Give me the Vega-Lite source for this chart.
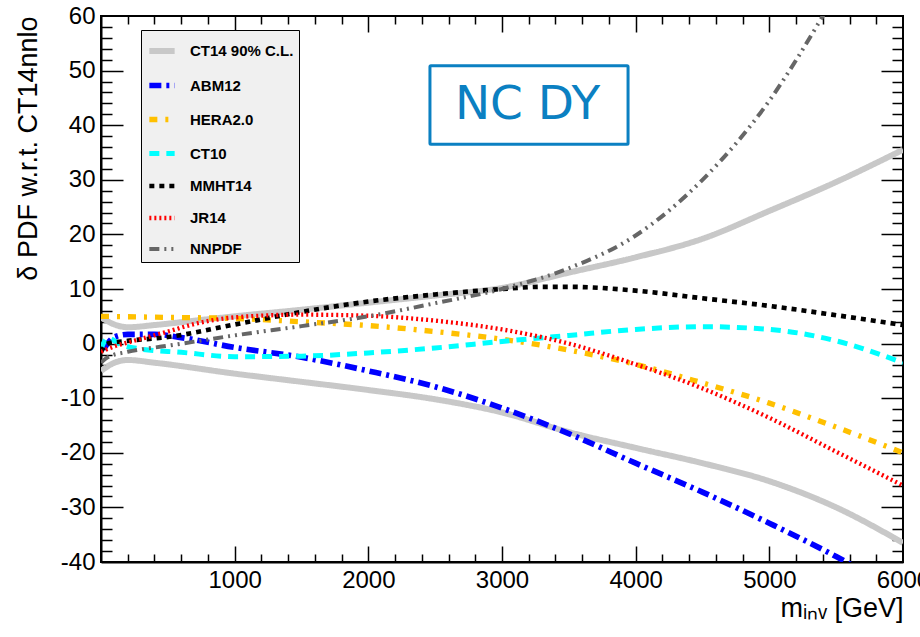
{
  "$schema": "https://vega.github.io/schema/vega-lite/v6.json",
  "width": 802,
  "height": 546,
  "autosize": "none",
  "padding": {"left": 101, "top": 16, "right": 17, "bottom": 75},
  "background": "white",
  "config": {
    "view": {"stroke": "black", "strokeWidth": 2},
    "axis": {
      "labelFont": "Liberation Sans", "titleFont": "Liberation Sans",
      "labelFontSize": 24, "titleFontSize": 27, "titleFontWeight": "normal",
      "labelColor": "black", "titleColor": "black", "domainColor": "black",
      "tickColor": "black", "grid": false, "domainWidth": 2, "tickWidth": 1.5
    },
    "legend": {
      "fillColor": "#f0f0f0", "strokeColor": "black", "padding": 5,
      "labelFont": "Liberation Sans", "labelFontSize": 15, "labelFontWeight": "bold", "labelColor": "black",
      "symbolSize": 640, "rowPadding": 7, "labelOffset": 12
    }
  },
  "layer": [
    {
      "layer": [
        {
          "data": {"values": [
            {"s":"CT14 90% C.L.","p":"u","m":0,"v":4.8},{"s":"CT14 90% C.L.","p":"u","m":100,"v":3.5},{"s":"CT14 90% C.L.","p":"u","m":200,"v":3.0},{"s":"CT14 90% C.L.","p":"u","m":400,"v":3.4},{"s":"CT14 90% C.L.","p":"u","m":700,"v":4.2},{"s":"CT14 90% C.L.","p":"u","m":1000,"v":5.0},{"s":"CT14 90% C.L.","p":"u","m":1500,"v":6.2},{"s":"CT14 90% C.L.","p":"u","m":2000,"v":7.5},{"s":"CT14 90% C.L.","p":"u","m":2500,"v":8.8},{"s":"CT14 90% C.L.","p":"u","m":3000,"v":10.2},{"s":"CT14 90% C.L.","p":"u","m":3500,"v":13.0},{"s":"CT14 90% C.L.","p":"u","m":4000,"v":15.8},{"s":"CT14 90% C.L.","p":"u","m":4500,"v":19.2},{"s":"CT14 90% C.L.","p":"u","m":5000,"v":24.3},{"s":"CT14 90% C.L.","p":"u","m":5500,"v":29.6},{"s":"CT14 90% C.L.","p":"u","m":6000,"v":35.5},
            {"s":"CT14 90% C.L.","p":"l","m":0,"v":-5.0},{"s":"CT14 90% C.L.","p":"l","m":100,"v":-3.5},{"s":"CT14 90% C.L.","p":"l","m":200,"v":-3.0},{"s":"CT14 90% C.L.","p":"l","m":400,"v":-3.5},{"s":"CT14 90% C.L.","p":"l","m":1000,"v":-5.5},{"s":"CT14 90% C.L.","p":"l","m":1500,"v":-7.0},{"s":"CT14 90% C.L.","p":"l","m":2000,"v":-8.5},{"s":"CT14 90% C.L.","p":"l","m":2500,"v":-10.2},{"s":"CT14 90% C.L.","p":"l","m":3000,"v":-12.6},{"s":"CT14 90% C.L.","p":"l","m":3500,"v":-16.2},{"s":"CT14 90% C.L.","p":"l","m":4000,"v":-19.1},{"s":"CT14 90% C.L.","p":"l","m":4500,"v":-21.9},{"s":"CT14 90% C.L.","p":"l","m":5000,"v":-25.2},{"s":"CT14 90% C.L.","p":"l","m":5500,"v":-30.0},{"s":"CT14 90% C.L.","p":"l","m":6000,"v":-36.5},
            {"s":"ABM12","p":"a","m":20,"v":-1.0},{"s":"ABM12","p":"a","m":100,"v":1.2},{"s":"ABM12","p":"a","m":200,"v":1.7},{"s":"ABM12","p":"a","m":400,"v":1.7},{"s":"ABM12","p":"a","m":600,"v":1.1},{"s":"ABM12","p":"a","m":1000,"v":-0.7},{"s":"ABM12","p":"a","m":1500,"v":-2.5},{"s":"ABM12","p":"a","m":2000,"v":-5.0},{"s":"ABM12","p":"a","m":2500,"v":-7.9},{"s":"ABM12","p":"a","m":3000,"v":-11.8},{"s":"ABM12","p":"a","m":3500,"v":-16.5},{"s":"ABM12","p":"a","m":4000,"v":-21.9},{"s":"ABM12","p":"a","m":4500,"v":-27.2},{"s":"ABM12","p":"a","m":5000,"v":-32.9},{"s":"ABM12","p":"a","m":5500,"v":-39.0},{"s":"ABM12","p":"a","m":6000,"v":-46.0},
            {"s":"HERA2.0","p":"a","m":0,"v":5.0},{"s":"HERA2.0","p":"a","m":500,"v":4.8},{"s":"HERA2.0","p":"a","m":1000,"v":4.6},{"s":"HERA2.0","p":"a","m":1500,"v":4.0},{"s":"HERA2.0","p":"a","m":2000,"v":3.3},{"s":"HERA2.0","p":"a","m":2500,"v":2.2},{"s":"HERA2.0","p":"a","m":3000,"v":0.8},{"s":"HERA2.0","p":"a","m":3500,"v":-1.2},{"s":"HERA2.0","p":"a","m":4000,"v":-3.8},{"s":"HERA2.0","p":"a","m":4500,"v":-7.2},{"s":"HERA2.0","p":"a","m":5000,"v":-10.9},{"s":"HERA2.0","p":"a","m":5500,"v":-15.3},{"s":"HERA2.0","p":"a","m":6000,"v":-20.0},
            {"s":"CT10","p":"a","m":0,"v":-1.0},{"s":"CT10","p":"a","m":50,"v":1.0},{"s":"CT10","p":"a","m":150,"v":-0.2},{"s":"CT10","p":"a","m":300,"v":-1.0},{"s":"CT10","p":"a","m":600,"v":-1.6},{"s":"CT10","p":"a","m":1000,"v":-2.4},{"s":"CT10","p":"a","m":1500,"v":-2.3},{"s":"CT10","p":"a","m":2000,"v":-1.7},{"s":"CT10","p":"a","m":2500,"v":-0.8},{"s":"CT10","p":"a","m":3000,"v":0.4},{"s":"CT10","p":"a","m":3500,"v":1.5},{"s":"CT10","p":"a","m":4000,"v":2.6},{"s":"CT10","p":"a","m":4500,"v":3.1},{"s":"CT10","p":"a","m":5000,"v":2.6},{"s":"CT10","p":"a","m":5500,"v":0.5},{"s":"CT10","p":"a","m":6000,"v":-3.5},
            {"s":"MMHT14","p":"a","m":0,"v":-1.5},{"s":"MMHT14","p":"a","m":50,"v":0.0},{"s":"MMHT14","p":"a","m":200,"v":0.5},{"s":"MMHT14","p":"a","m":500,"v":1.2},{"s":"MMHT14","p":"a","m":1000,"v":3.5},{"s":"MMHT14","p":"a","m":1500,"v":5.8},{"s":"MMHT14","p":"a","m":2000,"v":7.7},{"s":"MMHT14","p":"a","m":2500,"v":9.0},{"s":"MMHT14","p":"a","m":3000,"v":10.0},{"s":"MMHT14","p":"a","m":3300,"v":10.4},{"s":"MMHT14","p":"a","m":3500,"v":10.4},{"s":"MMHT14","p":"a","m":4000,"v":9.7},{"s":"MMHT14","p":"a","m":4500,"v":8.3},{"s":"MMHT14","p":"a","m":5000,"v":6.9},{"s":"MMHT14","p":"a","m":5500,"v":5.2},{"s":"MMHT14","p":"a","m":6000,"v":3.4},
            {"s":"JR14","p":"a","m":0,"v":-1.5},{"s":"JR14","p":"a","m":100,"v":-0.5},{"s":"JR14","p":"a","m":200,"v":0.2},{"s":"JR14","p":"a","m":500,"v":2.2},{"s":"JR14","p":"a","m":700,"v":3.6},{"s":"JR14","p":"a","m":1000,"v":4.8},{"s":"JR14","p":"a","m":1500,"v":5.3},{"s":"JR14","p":"a","m":2000,"v":5.1},{"s":"JR14","p":"a","m":2500,"v":4.2},{"s":"JR14","p":"a","m":3000,"v":2.6},{"s":"JR14","p":"a","m":3500,"v":0.0},{"s":"JR14","p":"a","m":4000,"v":-3.8},{"s":"JR14","p":"a","m":4500,"v":-8.2},{"s":"JR14","p":"a","m":5000,"v":-13.6},{"s":"JR14","p":"a","m":5500,"v":-19.8},{"s":"JR14","p":"a","m":6000,"v":-26.0},
            {"s":"NNPDF","p":"a","m":0,"v":-3.5},{"s":"NNPDF","p":"a","m":50,"v":-2.5},{"s":"NNPDF","p":"a","m":200,"v":-1.5},{"s":"NNPDF","p":"a","m":500,"v":-0.4},{"s":"NNPDF","p":"a","m":1000,"v":1.5},{"s":"NNPDF","p":"a","m":1500,"v":3.2},{"s":"NNPDF","p":"a","m":2000,"v":5.0},{"s":"NNPDF","p":"a","m":2500,"v":7.4},{"s":"NNPDF","p":"a","m":3000,"v":10.0},{"s":"NNPDF","p":"a","m":3500,"v":13.8},{"s":"NNPDF","p":"a","m":4000,"v":19.8},{"s":"NNPDF","p":"a","m":4500,"v":30.0},{"s":"NNPDF","p":"a","m":5000,"v":44.5},{"s":"NNPDF","p":"a","m":5400,"v":60.0},{"s":"NNPDF","p":"a","m":5600,"v":68.5}
          ]},
          "mark": {"type": "line", "clip": true, "strokeCap": "butt", "interpolate": "monotone"},
          "encoding": {
            "x": {"field": "m", "type": "quantitative",
              "scale": {"domain": [0, 6000], "nice": false, "zero": false},
              "axis": {"orient": "bottom", "values": [1000,2000,3000,4000,5000,6000], "ticks": false, "labelPadding": 6, "labelFlush": false, "labelOverlap": false,
                "labelExpr": "'' + datum.value",
                "title": "mᵢₙᵥ [GeV]", "titleAnchor": "end", "titlePadding": 3}},
            "y": {"field": "v", "type": "quantitative",
              "scale": {"domain": [-40, 60], "nice": false, "zero": false},
              "axis": {"orient": "left", "values": [-40,-30,-20,-10,0,10,20,30,40,50,60], "ticks": false, "labelPadding": 6, "labelFlush": false, "labelOverlap": false,
                "labelExpr": "datum.value < 0 ? '-' + abs(datum.value) : '' + datum.value",
                "title": "δ PDF w.r.t. CT14nnlo", "titleAnchor": "end", "titlePadding": 18}},
            "detail": {"field": "p"},
            "color": {"field": "s", "type": "nominal",
              "scale": {"domain": ["CT14 90% C.L.","ABM12","HERA2.0","CT10","MMHT14","JR14","NNPDF"],
                        "range": ["#c8c8c8","#0000ff","#ffc000","#00ffff","#000000","#ff0000","#666666"]},
              "legend": {"orient": "none", "legendX": 40, "legendY": 14, "title": null}},
            "strokeDash": {"field": "s", "type": "nominal",
              "scale": {"domain": ["CT14 90% C.L.","ABM12","HERA2.0","CT10","MMHT14","JR14","NNPDF"],
                        "range": [[1,0],[12,5,3,5],[8,8,3,8],[10,7],[5,5],[2,3],[10,5,2,5,2,5]]}},
            "strokeWidth": {"field": "s", "type": "nominal",
              "scale": {"domain": ["CT14 90% C.L.","ABM12","HERA2.0","CT10","MMHT14","JR14","NNPDF"],
                        "range": [6,4,4,4.5,4.5,3,4]}}
          }
        },
        {
          "data": {"values": [{"x1": 2461, "x2": 3943, "y1": 50.9, "y2": 36.5}]},
          "mark": {"type": "rect", "filled": false, "stroke": "#0b80c2", "strokeWidth": 3, "cornerRadius": 1},
          "encoding": {
            "x": {"field": "x1", "type": "quantitative"},
            "x2": {"field": "x2"},
            "y": {"field": "y1", "type": "quantitative"},
            "y2": {"field": "y2"}
          }
        },
        {
          "data": {"values": [{"tx": 3191, "ty": 43.7, "label": "NC DY"}]},
          "mark": {"type": "text", "font": "DejaVu Sans", "fontSize": 47, "color": "#0b80c2", "baseline": "middle", "align": "center"},
          "encoding": {
            "x": {"field": "tx", "type": "quantitative"},
            "y": {"field": "ty", "type": "quantitative"},
            "text": {"field": "label"}
          }
        }
      ]
    },
    {
      "data": {"values": [{"m": 0, "v": 0}]},
      "mark": {"type": "point", "opacity": 0},
      "encoding": {
        "x": {"field": "m", "type": "quantitative", "scale": {"domain": [0, 6000], "nice": false, "zero": false},
          "axis": {"orient": "bottom", "values": [1000,2000,3000,4000,5000], "tickSize": -16, "labels": false, "domain": false, "title": null}},
        "y": {"field": "v", "type": "quantitative", "scale": {"domain": [-40, 60], "nice": false, "zero": false},
          "axis": {"orient": "left", "values": [-30,-20,-10,0,10,20,30,40,50], "tickSize": -22, "labels": false, "domain": false, "title": null}}
      }
    },
    {
      "data": {"values": [{"m": 0, "v": 0}]},
      "mark": {"type": "point", "opacity": 0},
      "encoding": {
        "x": {"field": "m", "type": "quantitative", "scale": {"domain": [0, 6000], "nice": false, "zero": false},
          "axis": {"orient": "bottom", "values": [200,400,600,800,1200,1400,1600,1800,2200,2400,2600,2800,3200,3400,3600,3800,4200,4400,4600,4800,5200,5400,5600,5800], "tickSize": -8, "labels": false, "domain": false, "title": null}},
        "y": {"field": "v", "type": "quantitative", "scale": {"domain": [-40, 60], "nice": false, "zero": false},
          "axis": {"orient": "left", "values": [-38,-36,-34,-32,-28,-26,-24,-22,-18,-16,-14,-12,-8,-6,-4,-2,2,4,6,8,12,14,16,18,22,24,26,28,32,34,36,38,42,44,46,48,52,54,56,58], "tickSize": -11, "labels": false, "domain": false, "title": null}}
      }
    },
    {
      "data": {"values": [{"m": 0, "v": 0}]},
      "mark": {"type": "point", "opacity": 0},
      "encoding": {
        "x": {"field": "m", "type": "quantitative", "scale": {"domain": [0, 6000], "nice": false, "zero": false},
          "axis": {"orient": "top", "values": [1000,2000,3000,4000,5000], "tickSize": -16, "labels": false, "domain": false, "title": null}},
        "y": {"field": "v", "type": "quantitative", "scale": {"domain": [-40, 60], "nice": false, "zero": false},
          "axis": {"orient": "right", "values": [-30,-20,-10,0,10,20,30,40,50], "tickSize": -22, "labels": false, "domain": false, "title": null}}
      }
    },
    {
      "data": {"values": [{"m": 0, "v": 0}]},
      "mark": {"type": "point", "opacity": 0},
      "encoding": {
        "x": {"field": "m", "type": "quantitative", "scale": {"domain": [0, 6000], "nice": false, "zero": false},
          "axis": {"orient": "top", "values": [200,400,600,800,1200,1400,1600,1800,2200,2400,2600,2800,3200,3400,3600,3800,4200,4400,4600,4800,5200,5400,5600,5800], "tickSize": -8, "labels": false, "domain": false, "title": null}},
        "y": {"field": "v", "type": "quantitative", "scale": {"domain": [-40, 60], "nice": false, "zero": false},
          "axis": {"orient": "right", "values": [-38,-36,-34,-32,-28,-26,-24,-22,-18,-16,-14,-12,-8,-6,-4,-2,2,4,6,8,12,14,16,18,22,24,26,28,32,34,36,38,42,44,46,48,52,54,56,58], "tickSize": -11, "labels": false, "domain": false, "title": null}}
      }
    }
  ],
  "resolve": {"scale": {"x": "independent", "y": "independent"}, "axis": {"x": "independent", "y": "independent"}}
}
